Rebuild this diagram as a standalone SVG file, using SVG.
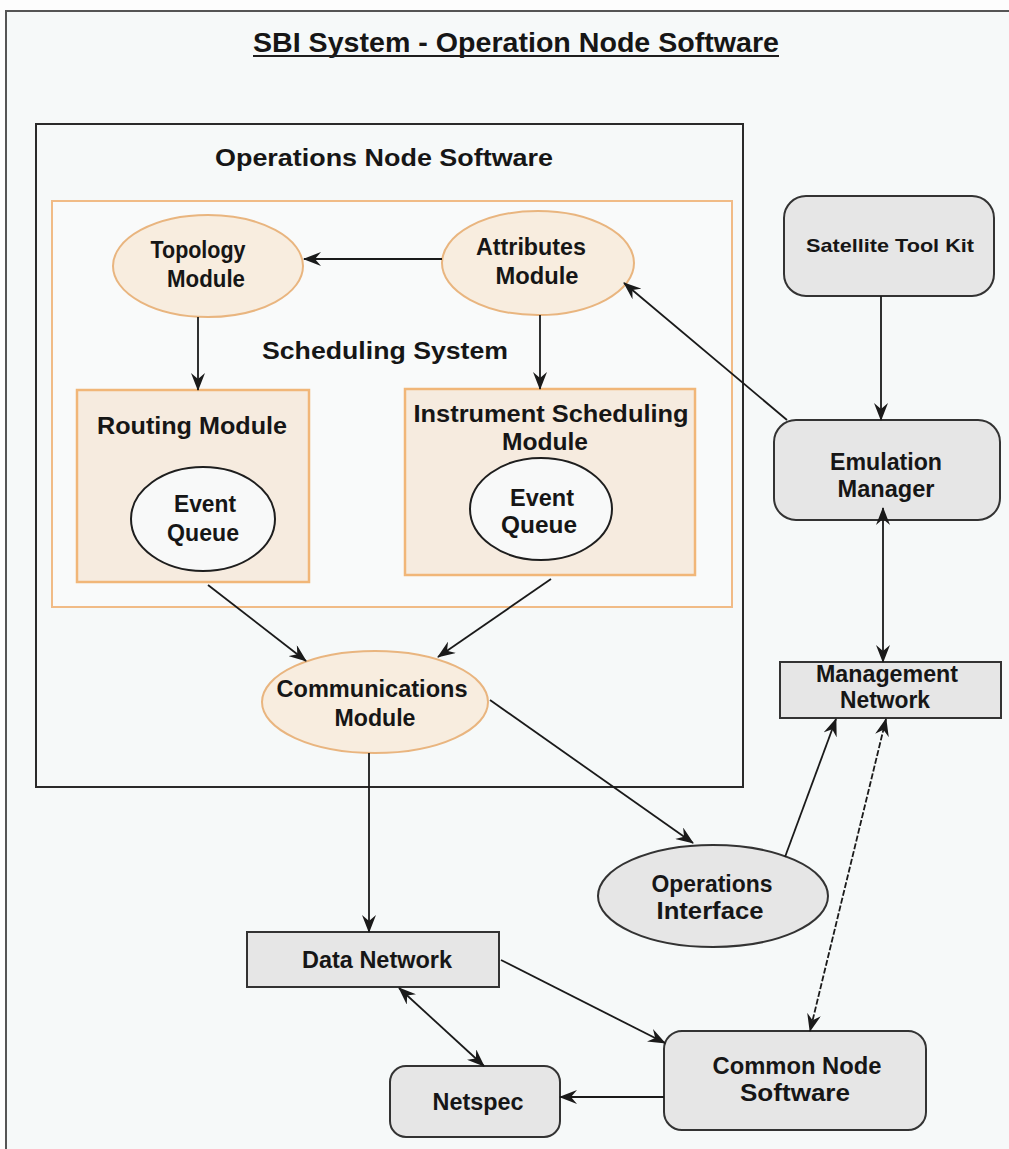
<svg xmlns="http://www.w3.org/2000/svg" width="1009" height="1149" viewBox="0 0 1009 1149">
<style>
text{font-family:"Liberation Sans",Arial,sans-serif;font-weight:bold;fill:#161616;text-anchor:middle}
.t{font-size:23px}
.orange-ell{fill:#f8eddf;stroke:#e9b57f;stroke-width:2}
.orange-box{fill:#f6ebdf;stroke:#f1b678;stroke-width:2.5}
.gray{fill:#e6e6e6;stroke:#333;stroke-width:2}
.eq{fill:#f8f9f9;stroke:#1e1e1e;stroke-width:2}
.c{stroke:#1a1a1a;stroke-width:1.8;fill:none}
</style>
<defs>
<marker id="ah" viewBox="0 0 18 14" refX="17" refY="7" markerWidth="18" markerHeight="14" markerUnits="userSpaceOnUse" orient="auto-start-reverse">
<path d="M0,0 L18,7 L0,14 L6,7 Z" fill="#1a1a1a"/>
</marker>
</defs>
<rect width="1009" height="1149" fill="#fdfdfd"/>
<rect x="6" y="11" width="1010" height="1145" fill="#f6f9f9" stroke="#555" stroke-width="2"/>

<g id="title">
<text x="516" y="52" style="font-size:28px" textLength="526" lengthAdjust="spacingAndGlyphs">SBI System - Operation Node Software</text>
<line x1="253" y1="56" x2="779" y2="56" stroke="#1e1e1e" stroke-width="2"/>
</g>

<g id="operations-node-software">
<rect x="36" y="124" width="707" height="663" fill="#f6f9f9" stroke="#2a2a2a" stroke-width="2"/>
<text x="384" y="166" style="font-size:24px" textLength="338" lengthAdjust="spacingAndGlyphs">Operations Node Software</text>
</g>

<g id="scheduling-system">
<rect x="52" y="201" width="680" height="406" fill="#f9fafa" stroke="#f1bb86" stroke-width="2"/>
<text x="385" y="359" style="font-size:24px" textLength="246" lengthAdjust="spacingAndGlyphs">Scheduling System</text>
</g>

<g id="topology-module">
<ellipse class="orange-ell" cx="208" cy="266" rx="95" ry="51"/>
<text class="t" x="198" y="258" textLength="95" lengthAdjust="spacingAndGlyphs">Topology</text>
<text class="t" x="206" y="287" textLength="78" lengthAdjust="spacingAndGlyphs">Module</text>
</g>

<g id="attributes-module">
<ellipse class="orange-ell" cx="538" cy="263" rx="96" ry="52"/>
<text class="t" x="531" y="255" textLength="110" lengthAdjust="spacingAndGlyphs">Attributes</text>
<text class="t" x="537" y="284" textLength="83" lengthAdjust="spacingAndGlyphs">Module</text>
</g>

<g id="routing-module">
<rect class="orange-box" x="77" y="390" width="232" height="192"/>
<text class="t" x="192" y="434" textLength="190" lengthAdjust="spacingAndGlyphs">Routing Module</text>
</g>

<g id="event-queue-1">
<ellipse class="eq" cx="203" cy="519" rx="72" ry="52"/>
<text class="t" x="205" y="512" textLength="62" lengthAdjust="spacingAndGlyphs">Event</text>
<text class="t" x="203" y="541" textLength="72" lengthAdjust="spacingAndGlyphs">Queue</text>
</g>

<g id="instrument-scheduling-module">
<rect class="orange-box" x="405" y="389" width="290" height="186"/>
<text class="t" x="551" y="422" textLength="275" lengthAdjust="spacingAndGlyphs">Instrument Scheduling</text>
<text class="t" x="545" y="450" textLength="86" lengthAdjust="spacingAndGlyphs">Module</text>
</g>

<g id="event-queue-2">
<ellipse class="eq" cx="541" cy="509" rx="71" ry="51"/>
<text class="t" x="542" y="506" textLength="64" lengthAdjust="spacingAndGlyphs">Event</text>
<text class="t" x="539" y="533" textLength="76" lengthAdjust="spacingAndGlyphs">Queue</text>
</g>

<g id="communications-module">
<ellipse class="orange-ell" cx="375" cy="702" rx="113" ry="51"/>
<text class="t" x="372" y="697" textLength="191" lengthAdjust="spacingAndGlyphs">Communications</text>
<text class="t" x="375" y="726" textLength="81" lengthAdjust="spacingAndGlyphs">Module</text>
</g>

<g id="satellite-tool-kit">
<rect class="gray" x="784" y="196" width="210" height="100" rx="22"/>
<text x="890" y="252" style="font-size:19px" textLength="168" lengthAdjust="spacingAndGlyphs">Satellite Tool Kit</text>
</g>

<g id="emulation-manager">
<rect class="gray" x="774" y="420" width="226" height="100" rx="22"/>
<text class="t" x="886" y="470" textLength="112" lengthAdjust="spacingAndGlyphs">Emulation</text>
<text class="t" x="886" y="497" textLength="97" lengthAdjust="spacingAndGlyphs">Manager</text>
</g>

<g id="management-network">
<rect class="gray" x="780" y="662" width="221" height="56"/>
<text class="t" x="887" y="682" textLength="142" lengthAdjust="spacingAndGlyphs">Management</text>
<text class="t" x="885" y="708" textLength="90" lengthAdjust="spacingAndGlyphs">Network</text>
</g>

<g id="operations-interface">
<ellipse class="gray" cx="713" cy="896" rx="115" ry="51"/>
<text class="t" x="712" y="892" textLength="121" lengthAdjust="spacingAndGlyphs">Operations</text>
<text class="t" x="710" y="919" textLength="107" lengthAdjust="spacingAndGlyphs">Interface</text>
</g>

<g id="data-network">
<rect class="gray" x="247" y="932" width="252" height="55"/>
<text class="t" x="377" y="968" textLength="150" lengthAdjust="spacingAndGlyphs">Data Network</text>
</g>

<g id="netspec">
<rect class="gray" x="390" y="1066" width="170" height="71" rx="16"/>
<text class="t" x="478" y="1110" textLength="91" lengthAdjust="spacingAndGlyphs">Netspec</text>
</g>

<g id="common-node-software">
<rect class="gray" x="664" y="1031" width="262" height="99" rx="18"/>
<text class="t" x="797" y="1074" textLength="169" lengthAdjust="spacingAndGlyphs">Common Node</text>
<text class="t" x="795" y="1101" textLength="110" lengthAdjust="spacingAndGlyphs">Software</text>
</g>

<g id="connectors">
<line class="c" x1="442" y1="259" x2="304" y2="259" marker-end="url(#ah)"/>
<line class="c" x1="198" y1="317" x2="198" y2="390" marker-end="url(#ah)"/>
<line class="c" x1="540" y1="315" x2="540" y2="389" marker-end="url(#ah)"/>
<line class="c" x1="208" y1="585" x2="306" y2="661" marker-end="url(#ah)"/>
<line class="c" x1="551" y1="579" x2="438" y2="657" marker-end="url(#ah)"/>
<line class="c" x1="369" y1="753" x2="369" y2="932" marker-end="url(#ah)"/>
<line class="c" x1="490" y1="700" x2="693" y2="843" marker-end="url(#ah)"/>
<line class="c" x1="501" y1="960" x2="665" y2="1043" marker-end="url(#ah)"/>
<line class="c" x1="399" y1="988" x2="484" y2="1066" marker-start="url(#ah)" marker-end="url(#ah)"/>
<line class="c" x1="664" y1="1097" x2="560" y2="1097" marker-end="url(#ah)"/>
<line class="c" x1="881" y1="296" x2="881" y2="420" marker-end="url(#ah)"/>
<line class="c" x1="787" y1="420" x2="624" y2="283" marker-end="url(#ah)"/>
<line class="c" x1="883" y1="508" x2="883" y2="662" marker-start="url(#ah)" marker-end="url(#ah)"/>
<line class="c" x1="785" y1="857" x2="836" y2="719" marker-end="url(#ah)"/>
<line class="c" x1="886" y1="719" x2="810" y2="1031" stroke-dasharray="6 2" marker-start="url(#ah)" marker-end="url(#ah)"/>
</g>
</svg>
